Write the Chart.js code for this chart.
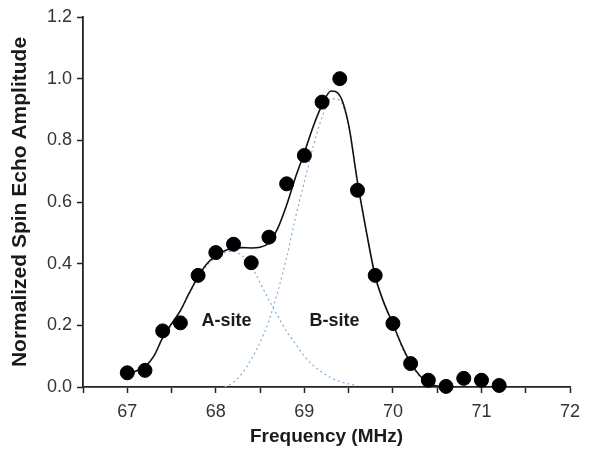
<!DOCTYPE html>
<html>
<head>
<meta charset="utf-8">
<script src="https://cdn.jsdelivr.net/npm/chart.js@4"></script>
<style>
  html, body { margin: 0; padding: 0; background: #fff; }
</style>
</head>
<body>
<canvas id="chart" width="595" height="460"></canvas>
<script>
// measured spin echo points
const freq = [67.0, 67.2, 67.4, 67.6, 67.8, 68.0, 68.2, 68.4, 68.6, 68.8, 69.0,
              69.2, 69.4, 69.6, 69.8, 70.0, 70.2, 70.4, 70.6, 70.8, 71.0, 71.2];
const amplitude = [0.046, 0.054, 0.182, 0.208, 0.362, 0.436, 0.463, 0.403, 0.486, 0.659, 0.751,
                   0.924, 1.000, 0.638, 0.362, 0.206, 0.076, 0.022, 0.002, 0.028, 0.022, 0.005];

// total fit (solid line)
const fitFreq = [67.0, 67.1, 67.2, 67.3, 67.4, 67.5, 67.6, 67.7, 67.8, 67.9,
                 68.0, 68.1, 68.2, 68.3, 68.4, 68.5, 68.6, 68.7, 68.8, 68.9,
                 69.0, 69.1, 69.2, 69.3, 69.4, 69.5, 69.6, 69.7, 69.8, 69.9,
                 70.0, 70.1, 70.2, 70.3, 70.4, 70.5, 70.6];
const fitTotal = [0.042, 0.052, 0.066, 0.100, 0.160, 0.205, 0.248, 0.305, 0.358, 0.400,
                  0.425, 0.442, 0.450, 0.452, 0.451, 0.453, 0.468, 0.515, 0.590, 0.680,
                  0.760, 0.845, 0.915, 0.960, 0.945, 0.850, 0.665, 0.505, 0.360, 0.272,
                  0.205, 0.135, 0.078, 0.038, 0.012, 0.003, 0.000];

// A-site component (dotted)
const aFreq = [67.0, 67.1, 67.2, 67.3, 67.4, 67.5, 67.6, 67.7, 67.8, 67.9,
               68.0, 68.1, 68.2, 68.3, 68.4, 68.5, 68.6, 68.7, 68.8, 68.9,
               69.0, 69.1, 69.2, 69.3, 69.4, 69.5, 69.6];
const aAmp = [0.040, 0.050, 0.066, 0.100, 0.158, 0.203, 0.246, 0.302, 0.354, 0.395,
              0.420, 0.436, 0.440, 0.425, 0.392, 0.338, 0.282, 0.230, 0.180, 0.140,
              0.100, 0.070, 0.048, 0.030, 0.018, 0.010, 0.005];

// B-site component (dotted)
const bFreq = [68.1, 68.2, 68.3, 68.4, 68.5, 68.6, 68.7, 68.8, 68.9, 69.0,
               69.1, 69.2, 69.3, 69.4, 69.5, 69.6, 69.7, 69.8, 69.9, 70.0,
               70.1, 70.2, 70.3, 70.4, 70.5, 70.6];
const bAmp = [0.000, 0.015, 0.045, 0.090, 0.145, 0.215, 0.310, 0.420, 0.550, 0.665,
              0.780, 0.875, 0.935, 0.930, 0.845, 0.660, 0.500, 0.355, 0.270, 0.200,
              0.130, 0.075, 0.035, 0.012, 0.003, 0.000];

const siteLabels = ['A-site', 'B-site'];
const siteLabelFreq = [68.12, 69.34];
const siteLabelAmp = [0.215, 0.215];

const xTicks = [67, 68, 69, 70, 71, 72];

function pts(xs, ys) {
    return xs.map((x, i) => ({ x: x, y: ys[i] }));
}

const siteText = {
    id: 'siteText',
    afterDatasetsDraw(chart) {
        const ctx = chart.ctx;
        const xs = chart.scales.x, ys = chart.scales.y;
        ctx.save();
        ctx.font = 'bold 18px "Liberation Sans", Arial, sans-serif';
        ctx.fillStyle = '#1a1a1a';
        ctx.textAlign = 'center';
        ctx.textBaseline = 'middle';
        siteLabels.forEach((t, i) => {
            ctx.fillText(t, xs.getPixelForValue(siteLabelFreq[i]), ys.getPixelForValue(siteLabelAmp[i]));
        });
        ctx.restore();
    }
};

new Chart(document.getElementById('chart'), {
    type: 'scatter',
    data: {
        datasets: [
            {
                label: 'data',
                data: pts(freq, amplitude),
                backgroundColor: '#000',
                borderColor: '#000',
                pointRadius: 7,
                pointHoverRadius: 7,
                showLine: false,
                clip: false,
                order: 0
            },
            {
                label: 'fit',
                data: pts(fitFreq, fitTotal),
                showLine: true,
                borderColor: '#111',
                borderWidth: 1.6,
                pointRadius: 0,
                cubicInterpolationMode: 'monotone',
                order: 1
            },
            {
                label: 'A-site',
                data: pts(aFreq, aAmp),
                showLine: true,
                borderColor: '#7ab0dc',
                borderWidth: 1.2,
                borderDash: [2, 3],
                pointRadius: 0,
                cubicInterpolationMode: 'monotone',
                order: 2
            },
            {
                label: 'B-site',
                data: pts(bFreq, bAmp),
                showLine: true,
                borderColor: '#7ab0dc',
                borderWidth: 1.2,
                borderDash: [2, 3],
                pointRadius: 0,
                cubicInterpolationMode: 'monotone',
                order: 2
            }
        ]
    },
    options: {
        responsive: false,
        animation: false,
        devicePixelRatio: 1,
        layout: { padding: { left: 0, right: 25, top: 17, bottom: 0 } },
        plugins: {
            legend: { display: false },
            tooltip: { enabled: false }
        },
        scales: {
            x: {
                type: 'linear',
                min: 66.5,
                max: 72,
                afterFit: s => { s.height = 73; },
                afterBuildTicks: s => {
                    const t = [];
                    for (let v = 66.5; v <= 72.001; v += 0.5) t.push({ value: Math.round(v * 10) / 10 });
                    s.ticks = t;
                },
                ticks: {
                    autoSkip: false,
                    maxRotation: 0,
                    padding: 8,
                    color: '#333',
                    font: { family: '"Liberation Sans", Arial, sans-serif', size: 18 },
                    callback: v => xTicks.includes(v) ? String(v) : ''
                },
                grid: {
                    drawOnChartArea: false,
                    drawTicks: true,
                    tickLength: 6,
                    tickWidth: 1.5,
                    tickColor: '#222'
                },
                border: { display: true, color: '#222', width: 1.8 },
                title: {
                    display: true,
                    text: 'Frequency (MHz)',
                    color: '#1a1a1a',
                    font: { family: '"Liberation Sans", Arial, sans-serif', size: 19, weight: 'bold' },
                    padding: { bottom: 12 }
                }
            },
            y: {
                type: 'linear',
                min: 0,
                max: 1.2,
                afterFit: s => { s.width = 83; },
                ticks: {
                    stepSize: 0.2,
                    padding: 5,
                    color: '#333',
                    font: { family: '"Liberation Sans", Arial, sans-serif', size: 18 },
                    callback: v => v.toFixed(1)
                },
                grid: {
                    drawOnChartArea: false,
                    drawTicks: true,
                    tickLength: 6,
                    tickWidth: 1.5,
                    tickColor: '#222'
                },
                border: { display: true, color: '#222', width: 1.8 },
                title: {
                    display: true,
                    text: 'Normalized Spin Echo Amplitude',
                    color: '#1a1a1a',
                    font: { family: '"Liberation Sans", Arial, sans-serif', size: 21, weight: 'bold' },
                    padding: { top: 8 }
                }
            }
        }
    },
    plugins: [siteText]
});
</script>
</body>
</html>
